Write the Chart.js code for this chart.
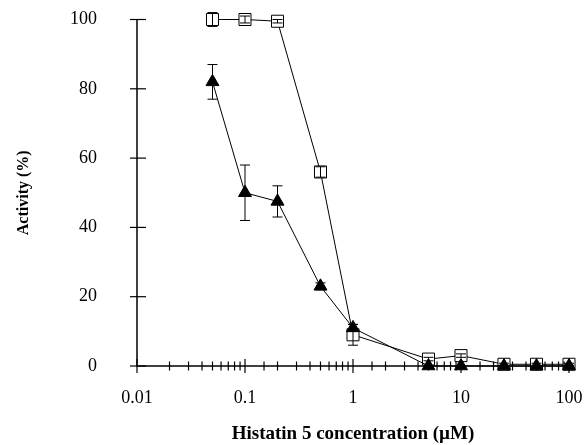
<!DOCTYPE html>
<html>
<head>
<meta charset="utf-8">
<script src="https://cdn.jsdelivr.net/npm/chart.js@4"></script>
<style>
  html, body { margin: 0; padding: 0; background: #fff; }
  #wrap { width: 586px; height: 445px; }
</style>
</head>
<body>
<div id="wrap"><canvas id="myChart" width="586" height="445"></canvas></div>
<script>
// concentraciones (uM)
const conc = [0.05, 0.1, 0.2, 0.5, 1, 5, 10, 25, 50, 100];

// serie cuadrados abiertos
const cuadrados = [100, 100, 99.5, 56, 9, 2, 3, 0.5, 0.5, 0.5];
const errCuadrados = [2, 1, 0.5, 1.5, 3, 0.5, 0.5, 0.3, 0.3, 0.3];

// serie triangulos rellenos
const triangulos = [82, 50, 47.5, 23, 11, 0, 0, 0, 0, 0];
const errTriangulos = [5, 8, 4.5, 1, 1, 0, 0, 0, 0, 0];

const yTicks = [0, 20, 40, 60, 80, 100];

const puntos = (ys) => conc.map((x, i) => ({ x: x, y: ys[i] }));

// barras de error y ejes con marcas cruzadas
const dibujoExtra = {
  id: 'dibujoExtra',
  afterDatasetsDraw(chart) {
    const ctx = chart.ctx;
    const xs = chart.scales.x;
    const ys = chart.scales.y;
    ctx.save();
    ctx.strokeStyle = '#000';

    // error bars
    ctx.lineWidth = 1;
    const barras = (vals, errs) => {
      vals.forEach((v, i) => {
        if (!errs[i]) return;
        const px = xs.getPixelForValue(conc[i]);
        const top = ys.getPixelForValue(v + errs[i]);
        const bot = ys.getPixelForValue(Math.max(0, v - errs[i]));
        ctx.beginPath();
        ctx.moveTo(px, top); ctx.lineTo(px, bot);
        ctx.moveTo(px - 5, top); ctx.lineTo(px + 5, top);
        ctx.moveTo(px - 5, bot); ctx.lineTo(px + 5, bot);
        ctx.stroke();
      });
    };
    barras(cuadrados, errCuadrados);
    barras(triangulos, errTriangulos);

    // axis lines
    const x0 = xs.getPixelForValue(xs.min);
    const y0 = ys.getPixelForValue(0);
    ctx.lineWidth = 1.5;
    ctx.beginPath();
    ctx.moveTo(x0, ys.getPixelForValue(100));
    ctx.lineTo(x0, y0);
    ctx.lineTo(xs.getPixelForValue(xs.max), y0);
    ctx.stroke();

    // y ticks
    ctx.lineWidth = 1.2;
    yTicks.forEach(t => {
      const py = ys.getPixelForValue(t);
      ctx.beginPath();
      ctx.moveTo(x0 - 7, py); ctx.lineTo(x0 + 9, py);
      ctx.stroke();
    });

    // x ticks (log, major and minor)
    xs.ticks.forEach(t => {
      const px = xs.getPixelForValue(t.value);
      const mayor = Math.abs(Math.log10(t.value) - Math.round(Math.log10(t.value))) < 1e-6;
      const l = mayor ? 7 : 4.5;
      ctx.beginPath();
      ctx.moveTo(px, y0 - l); ctx.lineTo(px, y0 + l);
      ctx.stroke();
    });
    ctx.restore();
  }
};

const ctx = document.getElementById('myChart');
const myChart = new Chart(ctx, {
  type: 'line',
  data: {
    datasets: [{
      label: 'triangulos',
      data: puntos(triangulos),
      borderColor: '#000',
      borderWidth: 1,
      backgroundColor: '#000',
      pointStyle: 'triangle',
      pointRadius: 7.5,
      pointBorderWidth: 1,
      pointBackgroundColor: '#000',
      pointBorderColor: '#000',
      clip: false,
      tension: 0
    }, {
      label: 'cuadrados',
      data: puntos(cuadrados),
      borderColor: '#000',
      borderWidth: 1,
      pointStyle: 'rect',
      pointRadius: 8.5,
      pointBorderWidth: 1,
      pointBackgroundColor: '#fff',
      pointBorderColor: '#000',
      clip: false,
      tension: 0
    }]
  },
  options: {
    responsive: false,
    animation: false,
    layout: { padding: { top: 19.5, right: 17, left: 0, bottom: 0 } },
    plugins: { legend: { display: false }, tooltip: { enabled: false } },
    scales: {
      x: {
        type: 'logarithmic',
        min: 0.01,
        max: 100,
        grid: { display: false, drawTicks: false },
        border: { display: false },
        ticks: {
          autoSkip: false,
          maxRotation: 0,
          padding: 21,
          color: '#000',
          font: { family: 'Liberation Serif', size: 18 },
          callback: function (v) {
            const l = Math.log10(v);
            if (Math.abs(l - Math.round(l)) < 1e-6) return String(v);
            return '';
          }
        },
        title: {
          display: true,
          text: 'Histatin 5 concentration (µM)',
          color: '#000',
          font: { family: 'Liberation Serif', size: 19, weight: 'bold' },
          padding: { top: 10, bottom: 0 }
        },
        afterFit: (s) => { s.height = 79; s.paddingLeft = 0; s.paddingRight = 0; }
      },
      y: {
        min: 0,
        max: 100,
        grid: { display: false, drawTicks: false },
        border: { display: false },
        ticks: {
          stepSize: 20,
          padding: 40,
          color: '#000',
          font: { family: 'Liberation Serif', size: 18 }
        },
        title: {
          display: true,
          text: 'Activity (%)',
          color: '#000',
          font: { family: 'Liberation Serif', size: 16, weight: 'bold' },
          padding: { top: 14, bottom: 0 }
        },
        afterFit: (s) => { s.width = 137; s.paddingTop = 0; s.paddingBottom = 0; }
      }
    }
  },
  plugins: [dibujoExtra]
});
</script>
</body>
</html>
